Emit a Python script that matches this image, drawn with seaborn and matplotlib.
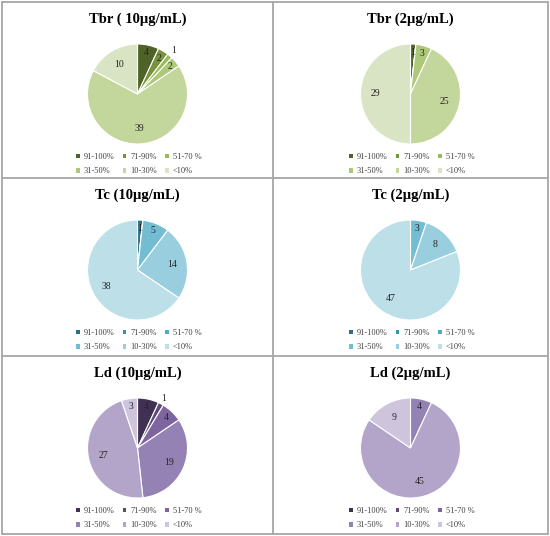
import matplotlib
matplotlib.use("Agg")
import matplotlib.pyplot as plt
from matplotlib.patches import Patch
from matplotlib.lines import Line2D
import seaborn as sns

# categories (activity classes) shared by all pies
categories = ["91-100%", "71-90%", "51-70 %", "31-50%", "10-30%", "<10%"]

titles = ["Tbr ( 10µg/mL)", "Tbr (2µg/mL)",
          "Tc (10µg/mL)", "Tc (2µg/mL)",
          "Ld (10µg/mL)", "Ld (2µg/mL)"]

# number of compounds in each class
tbr_10 = [4, 2, 1, 2, 39, 10]
tbr_2 = [1, 0, 0, 3, 25, 29]
tc_10 = [1, 0, 0, 5, 14, 38]
tc_2 = [0, 0, 0, 3, 8, 47]
ld_10 = [4, 1, 4, 19, 27, 3]
ld_2 = [0, 0, 0, 4, 45, 9]

greens = ["#4f6228", "#77933c", "#9bbb59", "#aec87a", "#c3d69b", "#d9e4c4"]
teals = ["#2a6f82", "#3a93ad", "#4bacc6", "#72bdd2", "#98cedd", "#bcdfe8"]
purples = ["#403152", "#5f497a", "#7e65a0", "#9482b5", "#b3a5c9", "#cec4dc"]

sns.set_theme(style="white")
plt.rcParams["font.family"] = ["Liberation Serif", "DejaVu Serif"]

W, H = 550, 536
fig = plt.figure(figsize=(W / 100, H / 100), dpi=100)

panels = [(tbr_10, greens), (tbr_2, greens),
          (tc_10, teals), (tc_2, teals),
          (ld_10, purples), (ld_2, purples)]

col_x = [2, 273, 548]
row_y = [2, 178, 356, 534]
R = 50
# legend is filled column by column, so reorder to read row by row
order = [0, 3, 1, 4, 2, 5]

for i, ((vals, cols), title) in enumerate(zip(panels, titles)):
    r, c = divmod(i, 2)
    cx = (col_x[c] + col_x[c + 1]) / 2
    top = row_y[r]
    cy = top + 92
    s = 2.5 * R
    ax = fig.add_axes([(cx - s / 2) / W, 1 - (cy + s / 2) / H, s / W, s / H])
    labels = [str(v) if v else "" for v in vals]
    wedges, texts = ax.pie(vals, colors=cols, startangle=90, counterclock=False,
                           labels=labels, labeldistance=0.7,
                           wedgeprops=dict(edgecolor="white", linewidth=0.8),
                           textprops=dict(fontsize=7, color="#262626"))
    nonzero = sum(1 for v in vals if v)
    total = sum(vals)
    for t, v in zip(texts, vals):
        t.set_ha("center")
        t.set_va("center")
        x, y = t.get_position()
        if v == 1 and nonzero > 4:
            t.set_position((x / 0.7 * 1.13, y / 0.7 * 1.13))
        elif v / total < 0.1:
            t.set_position((x / 0.7 * 0.84, y / 0.7 * 0.84))
    fig.text(cx / W, 1 - (top + 17) / H, title, ha="center", va="center",
             fontsize=10.5, fontweight="bold", color="black")
    handles = [Patch(facecolor=col, edgecolor="none") for col in cols]
    fig.legend([handles[k] for k in order], [categories[k] for k in order],
               loc="upper center",
               bbox_to_anchor=(cx / W + 0.002, 1 - (top + 147) / H),
               bbox_transform=fig.transFigure, ncol=3, frameon=False,
               fontsize=6, handlelength=0.45, handleheight=0.45,
               handletextpad=0.45, columnspacing=1.0, labelspacing=0.75,
               borderpad=0, labelcolor="#404040")

# panel borders
border = dict(color="#a6a6a6", linewidth=1.3, transform=fig.transFigure)
for x in col_x:
    fig.add_artist(Line2D([x / W, x / W], [1 - row_y[0] / H, 1 - row_y[-1] / H], **border))
for y in row_y:
    fig.add_artist(Line2D([col_x[0] / W, col_x[-1] / W], [1 - y / H, 1 - y / H], **border))

fig.savefig("out.png", dpi=100, facecolor="white")
